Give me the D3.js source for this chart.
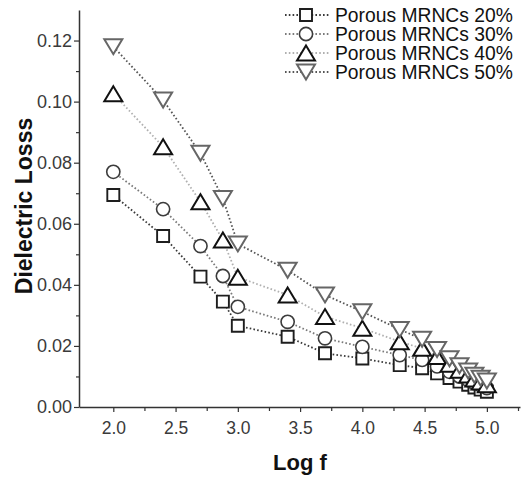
<!DOCTYPE html>
<html lang="en">
<head>
<meta charset="utf-8">
<script src="https://cdn.jsdelivr.net/npm/d3@7"></script>
<style>
  body { margin: 0; background: #fff; }
  svg { display: block; font-family: "Liberation Sans", Arial, sans-serif; }
</style>
</head>
<body>
<div id="chart"></div>
<script>
"use strict";

// log10 of frequency
const logF = [2.0, 2.4, 2.7, 2.88, 3.0, 3.4, 3.7, 4.0, 4.3, 4.48, 4.6, 4.7, 4.78, 4.85, 4.9, 4.95, 5.0];

const loss20 = [0.0694, 0.0560, 0.0427, 0.0345, 0.0266, 0.0230, 0.0176, 0.0159, 0.0137, 0.0127, 0.0110, 0.0095, 0.0083, 0.0073, 0.0064, 0.0057, 0.0050];
const loss30 = [0.0770, 0.0648, 0.0527, 0.0429, 0.0328, 0.0279, 0.0225, 0.0197, 0.0170, 0.0154, 0.0133, 0.0115, 0.0100, 0.0088, 0.0078, 0.0070, 0.0062];
const loss40 = [0.1026, 0.0852, 0.0672, 0.0547, 0.0425, 0.0367, 0.0296, 0.0258, 0.0214, 0.0192, 0.0165, 0.0140, 0.0120, 0.0105, 0.0092, 0.0082, 0.0073];
const loss50 = [0.1180, 0.1005, 0.0831, 0.0683, 0.0534, 0.0448, 0.0367, 0.0312, 0.0254, 0.0222, 0.0188, 0.0158, 0.0135, 0.0118, 0.0104, 0.0094, 0.0085];

const seriesNames = ["Porous MRNCs 20%", "Porous MRNCs 30%", "Porous MRNCs 40%", "Porous MRNCs 50%"];

const xTicks = [2.0, 2.5, 3.0, 3.5, 4.0, 4.5, 5.0];
const xMinor = [2.25, 2.75, 3.25, 3.75, 4.25, 4.75, 5.25];
const yTicks = [0.00, 0.02, 0.04, 0.06, 0.08, 0.10, 0.12];
const yMinor = [0.01, 0.03, 0.05, 0.07, 0.09, 0.11];

const W = 523, H = 477;
const margin = {top: 10, right: 3, bottom: 70, left: 79};

const x = d3.scaleLinear().domain([1.7245, 5.266]).range([margin.left, W - margin.right]);
const y = d3.scaleLinear().domain([0, 0.13]).range([H - margin.bottom, margin.top]);

const svg = d3.select("#chart").append("svg").attr("width", W).attr("height", H);

// marker shapes, centred on their bounding box
function squarePath(s) { const h = s / 2; return `M${-h},${-h}H${h}V${h}H${-h}Z`; }
function circlePath(r) { return `M${r},0A${r},${r} 0 1,1 ${-r},0A${r},${r} 0 1,1 ${r},0Z`; }
function triPath(w, h, up) {
  const a = up ? -h / 2 : h / 2, b = -a;
  return `M0,${a}L${w / 2},${b}L${-w / 2},${b}Z`;
}

const styles = [
  {shape: squarePath(12), stroke: "#1e1e1e", sw: 1.9, line: "#3a3a3a"},
  {shape: circlePath(6.6), stroke: "#3c3c3c", sw: 1.6, line: "#7a7a7a"},
  {shape: triPath(18, 15, true), stroke: "#111", sw: 2, line: "#b0b0b0"},
  {shape: triPath(18, 15, false), stroke: "#666", sw: 2, line: "#555"}
];

const allSeries = [loss20, loss30, loss40, loss50];

// axes
const axisColor = "#333";
const xAxis = svg.append("g").attr("transform", `translate(0,${y(0)})`)
  .call(d3.axisBottom(x).tickValues(xTicks).tickFormat(d3.format(".1f")).tickSize(5).tickSizeOuter(0));
svg.append("g").attr("transform", `translate(0,${y(0)})`)
  .call(d3.axisBottom(x).tickValues(xMinor).tickFormat("").tickSize(4).tickSizeOuter(0))
  .select(".domain").remove();
const yAxis = svg.append("g").attr("transform", `translate(${x.range()[0]},0)`)
  .call(d3.axisLeft(y).tickValues(yTicks).tickFormat(d3.format(".2f")).tickSize(5).tickSizeOuter(0));
svg.append("g").attr("transform", `translate(${x.range()[0]},0)`)
  .call(d3.axisLeft(y).tickValues(yMinor).tickFormat("").tickSize(3).tickSizeOuter(0))
  .select(".domain").remove();

svg.selectAll(".domain").attr("stroke", axisColor).attr("stroke-width", 1.5);
svg.selectAll(".tick line").attr("stroke", axisColor).attr("stroke-width", 1.2);
xAxis.selectAll("text").attr("font-size", 17.5).attr("fill", "#3a3a3a").attr("dy", 0).attr("y", 27);
yAxis.selectAll("text").attr("font-size", 18).attr("fill", "#3a3a3a").attr("x", -7);

// axis titles
svg.append("text")
  .attr("transform", `translate(32,206) rotate(-90)`)
  .attr("text-anchor", "middle")
  .attr("font-size", 23).attr("font-weight", "bold").attr("fill", "#111")
  .text("Dielectric Losss");
svg.append("text")
  .attr("x", 300).attr("y", 470)
  .attr("text-anchor", "middle")
  .attr("font-size", 22).attr("font-weight", "bold").attr("fill", "#111")
  .text("Log f");

// series
const line = d3.line().x(d => x(d[0])).y(d => y(d[1]));
allSeries.forEach((vals, i) => {
  const pts = logF.map((f, j) => [f, vals[j]]);
  const st = styles[i];
  svg.append("path").datum(pts)
    .attr("d", line)
    .attr("fill", "none")
    .attr("stroke", st.line)
    .attr("stroke-width", 1.8)
    .attr("stroke-dasharray", "1.6,2.2");
  svg.append("g").selectAll("path").data(pts).join("path")
    .attr("transform", d => `translate(${x(d[0])},${y(d[1])})`)
    .attr("d", st.shape)
    .attr("fill", "#fff")
    .attr("stroke", st.stroke)
    .attr("stroke-width", st.sw);
});

// legend
const legend = svg.append("g");
const rowY = [15, 34, 53, 72];
seriesNames.forEach((name, i) => {
  const st = styles[i];
  const g = legend.append("g").attr("transform", `translate(0,${rowY[i]})`);
  g.append("line").attr("x1", 285).attr("x2", 329).attr("y1", 0).attr("y2", 0)
    .attr("stroke", st.line).attr("stroke-width", 1.8).attr("stroke-dasharray", "1.6,2.2");
  g.append("path").attr("transform", "translate(306,0)").attr("d", st.shape)
    .attr("fill", "#fff").attr("stroke", st.stroke).attr("stroke-width", st.sw);
  g.append("text").attr("x", 335).attr("y", 7).attr("font-size", 19.3).attr("fill", "#111").text(name);
});
</script>
</body>
</html>
